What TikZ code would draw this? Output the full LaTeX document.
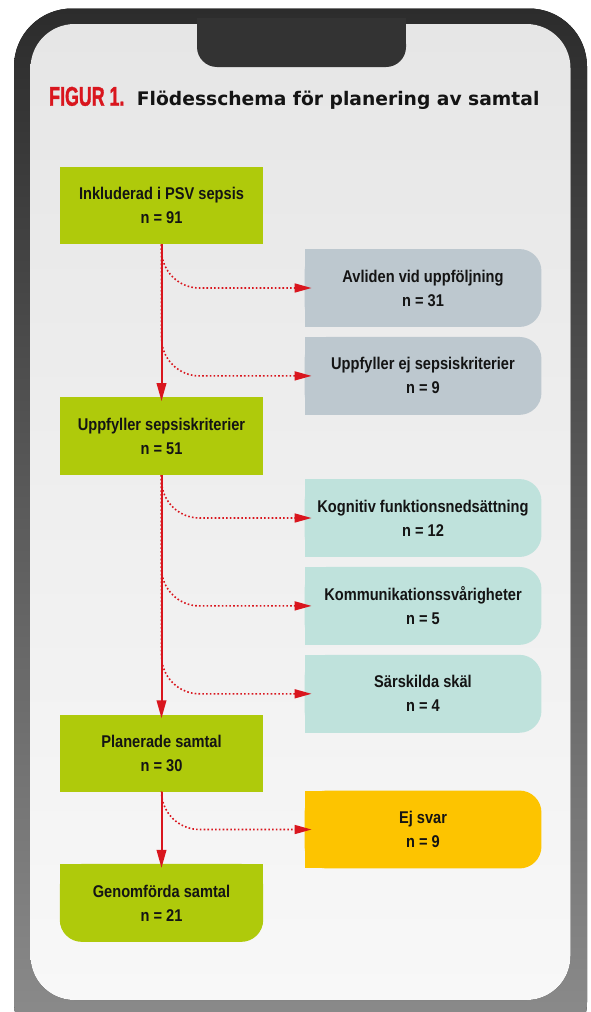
\documentclass[tikz,border=0pt]{standalone}
\usepackage{fontspec}
\setmainfont{Liberation Sans}
\newfontfamily\boxfont[FakeStretch=0.86]{Liberation Sans}
\newfontfamily\figfont[FakeStretch=0.66, FakeBold=1.2]{Liberation Sans}
\newfontfamily\titlefont{DejaVu Sans}
\usetikzlibrary{arrows.meta, positioning, backgrounds}
\definecolor{FlowGreen}{HTML}{AFCA0B}
\definecolor{FlowGrey}{HTML}{BDC8CF}
\definecolor{FlowTeal}{HTML}{BFE2DC}
\definecolor{FlowYellow}{HTML}{FDC400}
\definecolor{FlowRed}{HTML}{D9161E}
\definecolor{BoxText}{HTML}{141414}
\definecolor{ScreenTop}{HTML}{E6E6E6}
\definecolor{ScreenBottom}{HTML}{F8F8F8}
\definecolor{FrameTop}{HTML}{2C2C2C}
\definecolor{FrameBottom}{HTML}{8E8E8E}
\definecolor{NotchGrey}{HTML}{333333}

\begin{document}
\begin{tikzpicture}[x=1pt, y=-1pt,
        % Huvudruta (grön)
        mainbox/.style={
                rectangle,
                minimum width=203pt,
                minimum height=77.5pt,
                inner sep=0pt,
                align=center,
                fill=FlowGreen,
                text=BoxText,
                font=\boxfont\bfseries\fontsize{17}{24}\selectfont
            },
        % Sidoruta, fylls på bakgrunden
        sidebox/.style={
                mainbox,
                fill=none,
                minimum width=236.5pt
            },
        % Pilar
        flowline/.style={
                draw=FlowRed,
                line width=2pt,
                -{Triangle[length=18pt, width=9.5pt]},
                shorten >=-4pt
            },
        branchline/.style={
                draw=FlowRed,
                line width=1.6pt,
                dash pattern=on 1.6pt off 2.2pt,
                rounded corners=38pt,
                -{Triangle[length=17pt, width=9pt]},
                shorten >=-7pt
            }
    ]

    \useasboundingbox (0,0) rectangle (591,1012);

    % TELEFON
    \begin{scope}[on background layer]
        \clip (0,0) rectangle (591,1012);
        \fill[top color=FrameTop, bottom color=FrameBottom, rounded corners=58pt] (14,8.5) rectangle (587,1060);
        \fill[top color=ScreenTop, bottom color=ScreenBottom, rounded corners=44pt] (30.5,24) rectangle (570.5,1000);
        \fill[NotchGrey] (197,18) rectangle (406,45);
        \fill[NotchGrey, rounded corners=20pt] (197,24) rectangle (406,67);
    \end{scope}

    % RUBRIK
    \node[anchor=base west, inner sep=0pt, text=FlowRed, font=\figfont\bfseries\fontsize{27}{28}\selectfont] (fignum) at (49,105.7) {FIGUR 1.};
    \node[anchor=base west, inner sep=0pt, text=BoxText, font=\titlefont\bfseries\fontsize{18.7}{20}\selectfont] (title) at (136.7,105.7) {Flödesschema för planering av samtal};

    % HUVUDFLÖDE
    \node[mainbox] (incl) at (161.5,205.5) {Inkluderad i PSV sepsis\\n = 91};
    \node[mainbox, below=152.7pt of incl] (sepsis) {Uppfyller sepsiskriterier\\n = 51};
    \node[mainbox, below=239.3pt of sepsis] (planned) {Planerade samtal\\n = 30};
    \node[mainbox, fill=none, below=71.7pt of planned] (done) {Genomförda samtal\\n = 21};

    % BORTFALL
    \node[sidebox] (dead) at (423,288) {Avliden vid uppföljning\\n = 31};
    \node[sidebox, below=10pt of dead] (notmet) {Uppfyller ej sepsiskriterier\\n = 9};
    \node[sidebox] (cogn) at (423,518) {Kognitiv funktionsnedsättning\\n = 12};
    \node[sidebox, below=10pt of cogn] (comm) {Kommunikationssvårigheter\\n = 5};
    \node[sidebox, below=10pt of comm] (reason) {Särskilda skäl\\n = 4};
    \node[sidebox] (noreply) at (423,829.5) {Ej svar\\n = 9};

    % Rutornas fyllning
    \begin{scope}[on background layer]
        \foreach \bx/\col in {dead/FlowGrey, notmet/FlowGrey, cogn/FlowTeal, comm/FlowTeal, reason/FlowTeal, noreply/FlowYellow} {
            \fill[\col, rounded corners=22pt] (\bx.north west) rectangle (\bx.south east);
            \fill[\col] (\bx.north west) rectangle (\bx.south);
        }
        \fill[FlowGreen, rounded corners=22pt] (done.north west) rectangle (done.south east);
        \fill[FlowGreen] (done.north west) rectangle (done.east);
    \end{scope}

    % PILAR
    \draw[flowline] (incl) -- (sepsis);
    \draw[flowline] (sepsis) -- (planned);
    \draw[flowline] (planned) -- (done);
    \foreach \from/\to in {incl/dead, incl/notmet, sepsis/cogn, sepsis/comm, sepsis/reason, planned/noreply}
        \draw[branchline] (\from.south) |- (\to.west);

\end{tikzpicture}
\end{document}
